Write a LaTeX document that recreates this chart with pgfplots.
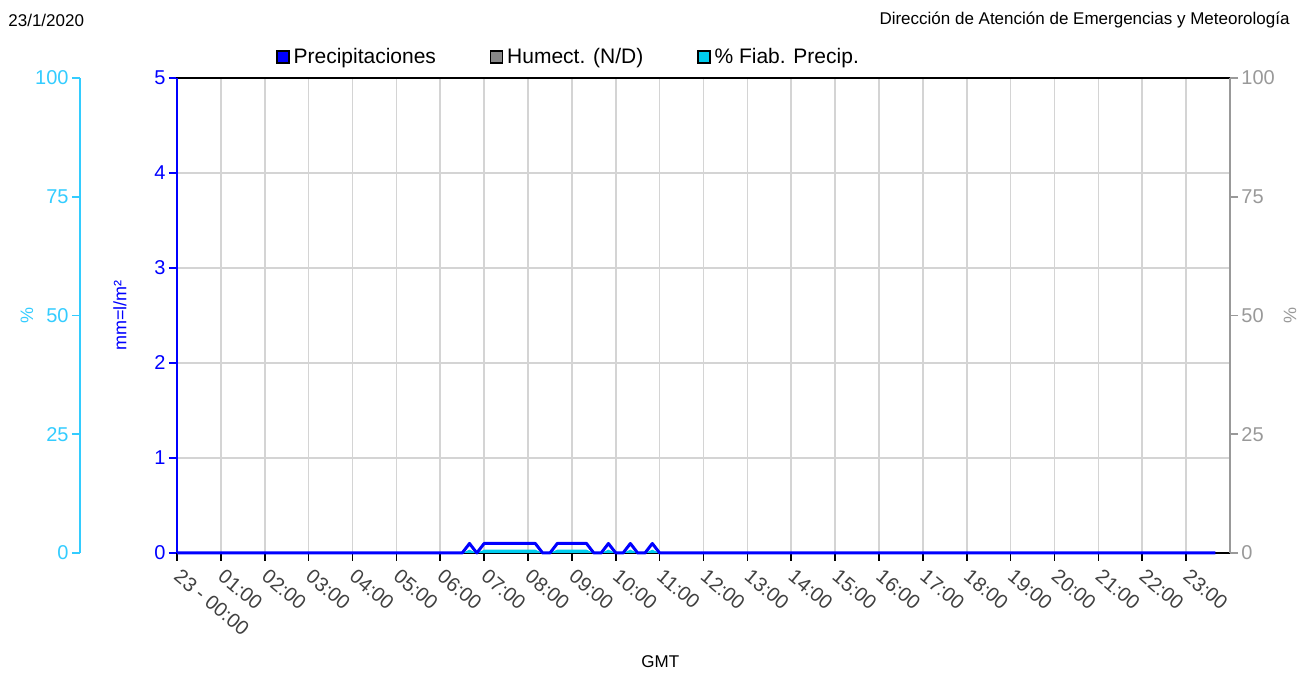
\documentclass[border=0pt]{standalone}
\usepackage{pgfplots}
\pgfplotsset{compat=1.18}
\usepackage{fontspec}
\setmainfont{Liberation Sans}
\definecolor{fiab}{HTML}{00CCEE}
\definecolor{lcyan}{HTML}{33CCFF}
\definecolor{rgray}{HTML}{999999}
\definecolor{gridc}{HTML}{D4D4D4}
\definecolor{hum}{HTML}{888888}
\begin{document}
\begin{tikzpicture}
\path[use as bounding box] (-88.5pt,-60pt) rectangle (569pt,276.5pt);
\node[anchor=west, inner sep=0pt, font=\fontsize{8.5}{10}\selectfont] at (-84.5pt,266.5pt) {23/1/2020};
\node[anchor=east, inner sep=0pt, font=\fontsize{8.5}{10}\selectfont] at (556.5pt,266.5pt) {Dirección de Atención de Emergencias y Meteorología};
\begin{axis}[
  at={(0pt,0pt)}, anchor=south west,
  scale only axis, width=526.5pt, height=237.5pt,
  xmin=0, xmax=24, ymin=0, ymax=5,
  clip=false,
  xtick={0,...,23},
  xticklabels={23 - 00:00,01:00,02:00,03:00,04:00,05:00,06:00,07:00,08:00,09:00,10:00,11:00,12:00,13:00,14:00,15:00,16:00,17:00,18:00,19:00,20:00,21:00,22:00,23:00},
  ytick={0,...,5},
  grid=major, grid style={gridc, line width=0.8pt},
  axis line style={black, line width=1pt},
  xtick pos=bottom, ytick pos=left, tick align=outside,
  major tick length=4pt,
  xtick style={black, line width=0.8pt},
  ytick style={blue, line width=0.8pt},
  /pgf/number format/assume math mode=true,
  x tick label style={rotate=-40, anchor=north west, font=\fontsize{10}{10}\selectfont, text=black!75, inner sep=1pt, xshift=3pt},
  y tick label style={text=blue, font=\fontsize{10}{10}\selectfont, inner sep=1.5pt},
  ylabel={mm=l/m²},
  ylabel style={at={(axis description cs:-0.0541,0.5)}, anchor=center, text=blue, font=\fontsize{9}{10}\selectfont},
  xlabel={GMT},
  xlabel style={at={(axis description cs:0.459,0)}, anchor=center, yshift=-54.5pt, font=\fontsize{8.5}{10}\selectfont},
  legend columns=3,
  legend style={at={(46.5pt,248pt)}, anchor=west, draw=none, fill=none, font=\fontsize{10.5}{12}\selectfont,
    /tikz/every even column/.append style={column sep=25pt}},
  legend image code/.code={\draw[#1, draw=black, line width=0.6pt] (0pt,-3pt) rectangle (6pt,3pt);},
]
\addlegendimage{fill=blue}
\addlegendentry{Precipitaciones}
\addlegendimage{fill=hum}
\addlegendentry{Humect. (N/D)}
\addlegendimage{fill=fiab}
\addlegendentry{\% Fiab. Precip.}
\addplot[fill=fiab, draw=none, forget plot] coordinates {
(6.5,0) (6.6667,0.035) (6.8333,0) (7,0.035) (8.1667,0.035) (8.3333,0) (8.5,0) (8.6667,0.035) (9.3333,0.035) (9.5,0) (9.6667,0) (9.8333,0.035) (10,0) (10.1667,0) (10.3333,0.035) (10.5,0) (10.6667,0) (10.8333,0.035) (11,0)} \closedcycle;
\addplot[blue, line width=1.5pt, line join=round, forget plot] coordinates {
(0,0) (6.5,0) (6.6667,0.1) (6.8333,0) (7,0.1) (8.1667,0.1) (8.3333,0) (8.5,0) (8.6667,0.1) (9.3333,0.1) (9.5,0) (9.6667,0) (9.8333,0.1) (10,0) (10.1667,0) (10.3333,0.1) (10.5,0) (10.6667,0) (10.8333,0.1) (11,0) (23.6667,0)};
\end{axis}
% blue left axis line
\begin{axis}[
  at={(0pt,0pt)}, anchor=south west,
  scale only axis, width=526.5pt, height=237.5pt,
  xmin=0, xmax=1, ymin=0, ymax=5,
  hide x axis, axis y line*=left, ytick=\empty,
  y axis line style={blue, line width=1pt, -},
]
\addplot[draw=none] coordinates {(0,0)};
\end{axis}
% right gray axis
\begin{axis}[
  at={(0pt,0pt)}, anchor=south west,
  scale only axis, width=526.5pt, height=237.5pt,
  xmin=0, xmax=1, ymin=0, ymax=100,
  hide x axis, axis y line*=right,
  y axis line style={rgray, line width=1pt, -},
  ytick={0,25,50,75,100},
  tick align=outside, major tick length=4pt,
  ytick style={rgray, line width=0.8pt},
  /pgf/number format/assume math mode=true,
  y tick label style={text=rgray, font=\fontsize{10}{10}\selectfont, inner sep=1.5pt},
  ylabel={\%},
  ylabel style={at={(axis description cs:1.057,0.5)}, anchor=center, text=rgray, rotate=180, font=\fontsize{9}{10}\selectfont},
]
\addplot[draw=none] coordinates {(0,0)};
\end{axis}
% left cyan axis
\begin{axis}[
  at={(-48.5pt,0pt)}, anchor=south west,
  scale only axis, width=100pt, height=237.5pt,
  xmin=0, xmax=1, ymin=0, ymax=100,
  hide x axis, axis y line*=left,
  y axis line style={lcyan, line width=1pt, -},
  ytick={0,25,50,75,100},
  tick align=outside, major tick length=4pt,
  ytick style={lcyan, line width=0.8pt},
  /pgf/number format/assume math mode=true,
  y tick label style={text=lcyan, font=\fontsize{10}{10}\selectfont, inner sep=1.5pt},
  ylabel={\%},
  ylabel style={at={(axis description cs:-0.265,0.5)}, anchor=center, text=lcyan, font=\fontsize{9}{10}\selectfont},
]
\addplot[draw=none] coordinates {(0,0)};
\end{axis}
\end{tikzpicture}
\end{document}
